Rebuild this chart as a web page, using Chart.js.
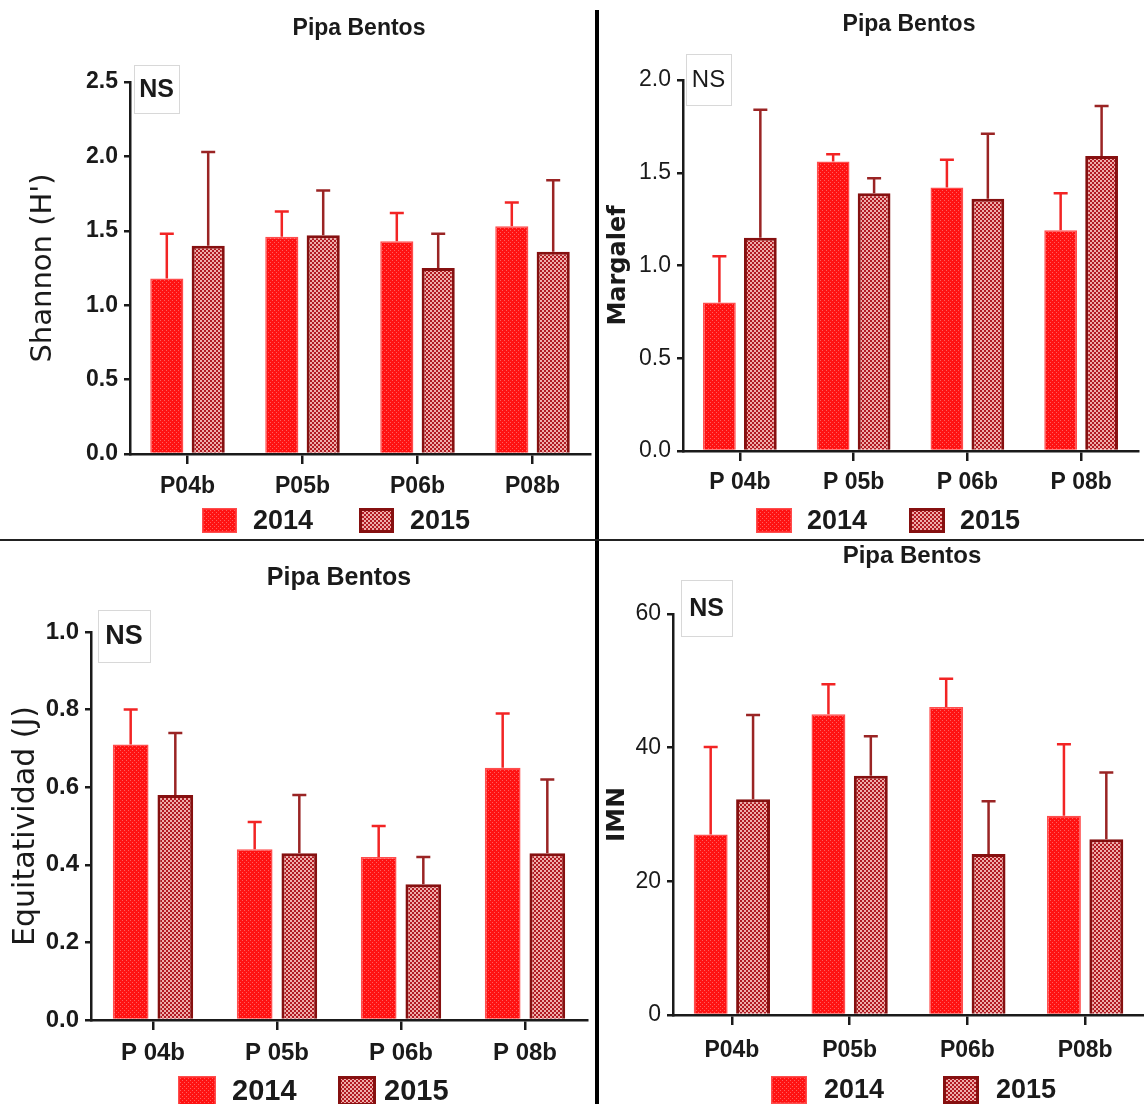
<!DOCTYPE html>
<html>
<head>
<meta charset="utf-8">
<script src="https://cdn.jsdelivr.net/npm/chart.js@4.4.1/dist/chart.umd.min.js"></script>
<style>
  html, body { margin: 0; padding: 0; background: #fff; }
  #page { position: relative; width: 1144px; height: 1104px; overflow: hidden; }
  .panel { position: absolute; }
  .vline { position: absolute; left: 595px; top: 10px; width: 4px; height: 1094px; background: #000; }
  .hline { position: absolute; left: 0; top: 539px; width: 1144px; height: 2px; background: #222; }
</style>
</head>
<body>
<div id="page">
  <canvas id="shannon" class="panel" width="595" height="538" style="left:0;top:0;width:595px;height:538px"></canvas>
  <canvas id="margalef" class="panel" width="544" height="538" style="left:600px;top:0;width:544px;height:538px"></canvas>
  <canvas id="equit" class="panel" width="595" height="562" style="left:0;top:542px;width:595px;height:562px"></canvas>
  <canvas id="imn" class="panel" width="544" height="562" style="left:600px;top:542px;width:544px;height:562px"></canvas>
  <div class="vline"></div>
  <div class="hline"></div>
</div>
<script>
// ---- data ----
const years = ['2014', '2015'];
const sitesA = ['P04b', 'P05b', 'P06b', 'P08b'];
const sitesB = ['P 04b', 'P 05b', 'P 06b', 'P 08b'];

const shannon2014 = [1.18, 1.46, 1.43, 1.53];
const shannon2015 = [1.40, 1.47, 1.25, 1.36];
const shannonSd2014 = [0.30, 0.17, 0.19, 0.16];
const shannonSd2015 = [0.63, 0.30, 0.23, 0.48];

const margalef2014 = [0.80, 1.56, 1.42, 1.19];
const margalef2015 = [1.15, 1.39, 1.36, 1.59];
const margalefSd2014 = [0.25, 0.04, 0.15, 0.20];
const margalefSd2015 = [0.69, 0.08, 0.35, 0.27];

const equit2014 = [0.71, 0.44, 0.42, 0.65];
const equit2015 = [0.58, 0.43, 0.35, 0.43];
const equitSd2014 = [0.09, 0.07, 0.08, 0.14];
const equitSd2015 = [0.16, 0.15, 0.07, 0.19];

const imn2014 = [27.0, 45.0, 46.1, 29.8];
const imn2015 = [32.3, 35.8, 24.1, 26.3];
const imnSd2014 = [13.1, 4.5, 4.2, 10.7];
const imnSd2015 = [12.6, 5.9, 7.9, 10.0];

Chart.defaults.font.family = "'Liberation Sans', Arial, sans-serif";
Chart.defaults.color = '#1a1a1a';

function makePattern(bg, dot, cells) {
  const c = document.createElement('canvas');
  c.width = 4; c.height = 4;
  const g = c.getContext('2d');
  g.fillStyle = bg; g.fillRect(0, 0, 4, 4);
  g.fillStyle = dot;
  cells.forEach(([x, y, w, h]) => g.fillRect(x, y, w, h));
  return g.createPattern(c, 'repeat');
}
const fill2014 = makePattern('#ff1212', '#ff5e5e', [[0, 0, 1, 1], [2, 2, 1, 1]]);
const fill2015 = makePattern('#b01a22', '#efaeaa', [[0, 0, 2, 2], [2, 2, 2, 2]]);

// upper error bars (mean + SD)
const errorBars = {
  id: 'errorBars',
  afterDatasetsDraw(chart) {
    const ctx = chart.ctx;
    const y = chart.scales.y;
    chart.data.datasets.forEach((ds, di) => {
      const meta = chart.getDatasetMeta(di);
      ctx.save();
      ctx.strokeStyle = ds.errorColor;
      ctx.lineWidth = 2.5;
      meta.data.forEach((bar, i) => {
        const top = y.getPixelForValue(ds.data[i] + ds.errors[i]);
        ctx.beginPath();
        ctx.moveTo(bar.x, bar.y);
        ctx.lineTo(bar.x, top);
        ctx.moveTo(bar.x - 7, top);
        ctx.lineTo(bar.x + 7, top);
        ctx.stroke();
      });
      ctx.restore();
    });
  }
};

// title, NS box and legend of each panel
const panelDeco = {
  id: 'panelDeco',
  afterDraw(chart, args, o) {
    const ctx = chart.ctx;
    ctx.save();
    ctx.textBaseline = 'middle';
    ctx.fillStyle = '#1a1a1a';
    ctx.textAlign = 'center';
    ctx.font = `bold ${o.titleSize}px 'Liberation Sans', Arial, sans-serif`;
    ctx.fillText('Pipa Bentos', o.titleX, o.titleY);

    ctx.strokeStyle = '#d8d8d8';
    ctx.lineWidth = 1;
    ctx.strokeRect(o.ns[0] + 0.5, o.ns[1] + 0.5, o.ns[2], o.ns[3]);
    ctx.font = `${o.nsWeight} ${o.nsSize}px 'Liberation Sans', Arial, sans-serif`;
    ctx.fillText('NS', o.ns[0] + o.ns[2] / 2, o.ns[1] + o.ns[3] / 2 + 1);

    ctx.textAlign = 'left';
    ctx.font = `bold ${o.legSize}px 'Liberation Sans', Arial, sans-serif`;
    chart.data.datasets.forEach((ds, i) => {
      const [bx, tx] = o.legX[i];
      const [by, bw, bh] = o.legBox;
      ctx.fillStyle = ds.backgroundColor;
      ctx.fillRect(bx, by, bw, bh);
      ctx.strokeStyle = ds.borderColor;
      ctx.lineWidth = ds.borderWidth;
      ctx.strokeRect(bx + ds.borderWidth / 2, by + ds.borderWidth / 2, bw - ds.borderWidth, bh - ds.borderWidth);
      ctx.fillStyle = '#1a1a1a';
      ctx.fillText(ds.label, tx, by + bh / 2 + 1);
    });
    ctx.restore();
  }
};

function makeChart(id, cfg) {
  const datasets = [
    { label: years[0], data: cfg.d2014, errors: cfg.sd2014, errorColor: '#f22424',
      backgroundColor: fill2014, borderColor: '#ff4c4c', borderWidth: 1.5 },
    { label: years[1], data: cfg.d2015, errors: cfg.sd2015, errorColor: '#9a2424',
      backgroundColor: fill2015, borderColor: '#861010', borderWidth: 3 }
  ];
  return new Chart(document.getElementById(id), {
    type: 'bar',
    data: { labels: cfg.labels, datasets },
    plugins: [errorBars, panelDeco],
    options: {
      responsive: false,
      animation: false,
      events: [],
      categoryPercentage: 0.72,
      barPercentage: 0.8,
      layout: { padding: { left: 0, top: cfg.top, right: cfg.right, bottom: 0 } },
      plugins: {
        legend: { display: false },
        tooltip: { enabled: false },
        panelDeco: cfg.deco
      },
      scales: {
        x: {
          afterFit: (s) => { s.height = cfg.xh; },
          grid: { display: true, drawOnChartArea: false, offset: false, tickLength: 10, color: '#1a1a1a', lineWidth: 2.5 },
          border: { display: true, color: '#1a1a1a', width: 2.5 },
          ticks: { padding: cfg.xPad, font: { size: cfg.xFont, weight: 'bold' }, color: '#1a1a1a', maxRotation: 0 }
        },
        y: {
          min: 0, max: cfg.max,
          afterFit: (s) => { s.width = cfg.left; },
          grid: { display: true, drawOnChartArea: false, tickLength: 6, color: '#1a1a1a', lineWidth: 2.5 },
          border: { display: true, color: '#1a1a1a', width: 2.5 },
          ticks: { stepSize: cfg.step, padding: 6, color: '#1a1a1a',
                   font: { size: cfg.yFont, weight: cfg.yWeight },
                   callback: (v) => v.toFixed(cfg.dec) },
          title: { display: true, text: cfg.yTitle, color: '#1a1a1a',
                   padding: { top: cfg.titlePad, bottom: 0 },
                   font: { family: "'DejaVu Sans', sans-serif", size: cfg.yTitleSize, weight: cfg.yTitleWeight } }
        }
      }
    }
  });
}

makeChart('shannon', {
  labels: sitesA, d2014: shannon2014, d2015: shannon2015, sd2014: shannonSd2014, sd2015: shannonSd2015,
  max: 2.5, step: 0.5, dec: 1, left: 130, right: 5, top: 82, xh: 84, xPad: 9,
  xFont: 23, yFont: 23, yWeight: 'bold',
  yTitle: "Shannon (H')", yTitleSize: 29, yTitleWeight: 'normal', titlePad: 26,
  deco: { titleX: 359, titleY: 29, titleSize: 23, ns: [134, 65, 45, 48], nsSize: 25, nsWeight: 'bold',
          legSize: 27, legBox: [508, 35, 25], legX: [[202, 253], [359, 410]] }
});

makeChart('margalef', {
  labels: sitesB, d2014: margalef2014, d2015: margalef2015, sd2014: margalefSd2014, sd2015: margalefSd2015,
  max: 2.0, step: 0.5, dec: 1, left: 83, right: 6, top: 80, xh: 87, xPad: 8,
  xFont: 23, yFont: 23, yWeight: 'normal',
  yTitle: 'Margalef', yTitleSize: 24, yTitleWeight: 'bold', titlePad: 4,
  deco: { titleX: 309, titleY: 25, titleSize: 23, ns: [86, 54, 45, 51], nsSize: 24, nsWeight: 'normal',
          legSize: 27, legBox: [508, 36, 25], legX: [[156, 207], [309, 360]] }
});

makeChart('equit', {
  labels: sitesB, d2014: equit2014, d2015: equit2015, sd2014: equitSd2014, sd2015: equitSd2015,
  max: 1.0, step: 0.2, dec: 1, left: 91, right: 8, top: 90, xh: 84, xPad: 9,
  xFont: 24, yFont: 24, yWeight: 'bold',
  yTitle: 'Equitatividad (J)', yTitleSize: 30, yTitleWeight: 'normal', titlePad: 8,
  deco: { titleX: 339, titleY: 36, titleSize: 25, ns: [98, 68, 52, 52], nsSize: 27, nsWeight: 'bold',
          legSize: 29, legBox: [534, 38, 30], legX: [[178, 232], [338, 384]] }
});

makeChart('imn', {
  labels: sitesA, d2014: imn2014, d2015: imn2015, sd2014: imnSd2014, sd2015: imnSd2015,
  max: 60, step: 20, dec: 0, left: 73, right: 0, top: 72, xh: 89, xPad: 12,
  xFont: 23, yFont: 23, yWeight: 'normal',
  yTitle: 'IMN', yTitleSize: 25, yTitleWeight: 'bold', titlePad: 2,
  deco: { titleX: 312, titleY: 14, titleSize: 24, ns: [81, 38, 51, 56], nsSize: 25, nsWeight: 'bold',
          legSize: 27, legBox: [534, 36, 28], legX: [[171, 224], [343, 396]] }
});
</script>
</body>
</html>
